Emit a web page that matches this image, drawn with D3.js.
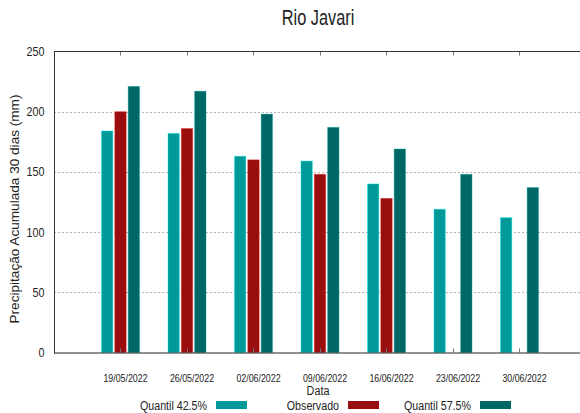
<!DOCTYPE html>
<html>
<head>
<meta charset="utf-8">
<script src="https://cdn.jsdelivr.net/npm/d3@7"></script>
<style>
  body { margin: 0; background: #fff; }
  text { font-family: "Liberation Sans", Arial, sans-serif; fill: #222; }
</style>
</head>
<body>
<svg id="chart" width="580" height="413"></svg>
<script>
const title = "Rio Javari";
const yLabel = "Precipitação Acumulada 30 dias (mm)";
const xLabel = "Data";
const categories = ["19/05/2022", "26/05/2022", "02/06/2022", "09/06/2022", "16/06/2022", "23/06/2022", "30/06/2022"];
const seriesNames = ["Quantil 42.5%", "Observado", "Quantil 57.5%"];
const seriesColors = ["#009999", "#990e0e", "#006767"];
const q425 = [184, 182, 163, 159, 140, 119, 112];
const observado = [200, 186, 160, 148, 128, null, null];
const q575 = [221, 217, 198, 187, 169, 148, 137];
const yTicks = [0, 50, 100, 150, 200, 250];

const seriesValues = [q425, observado, q575];

const svg = d3.select("#chart");
const pLeft = 54, pRight = 580, pTop = 51.5, pBottom = 352.5;

const x = d3.scaleLinear().domain([-1, 6.91]).range([pLeft, pRight]);
const y = d3.scaleLinear().domain([0, 250]).range([pBottom, pTop]);
const sub = d3.scaleBand().domain(seriesNames).range([-19, 19]).paddingInner(0.15);

// condensed horizontal text helper
function ctext(parent, tx, ty, str, size, sx, anchor) {
  const g = parent.append("g").attr("transform", `translate(${tx},${ty}) scale(${sx},1)`);
  g.append("text").attr("x", 0).attr("y", 0)
    .attr("text-anchor", anchor || "middle")
    .attr("font-size", size).text(str);
  return g;
}

// gridlines
svg.append("g").selectAll("line").data(yTicks.filter(t => t > 0 && t < 250)).join("line")
  .attr("x1", pLeft).attr("x2", pRight)
  .attr("y1", d => Math.round(y(d)) + 0.5).attr("y2", d => Math.round(y(d)) + 0.5)
  .attr("stroke", "#b4b4b4").attr("stroke-width", 1).attr("stroke-dasharray", "2,2");

// bars
const bars = svg.append("g");
seriesNames.forEach((name, si) => {
  const data = categories.map((c, i) => ({ i, v: seriesValues[si][i] })).filter(d => d.v != null);
  bars.selectAll(null).data(data).join("rect")
    .attr("x", d => x(d.i) + sub(name))
    .attr("y", d => y(d.v))
    .attr("width", sub.bandwidth())
    .attr("height", d => pBottom - y(d.v))
    .attr("fill", seriesColors[si])
    .attr("stroke", d3.color(seriesColors[si]).brighter(1.2))
    .attr("stroke-opacity", 0.5)
    .attr("stroke-width", 0.8);
});

// x ticks (inward, top and bottom)
const xt = svg.append("g");
xt.selectAll(".tb").data(categories).join("line")
  .attr("x1", (d, i) => Math.round(x(i)) + 0.5).attr("x2", (d, i) => Math.round(x(i)) + 0.5)
  .attr("y1", pBottom).attr("y2", pBottom - 4)
  .attr("stroke", "#777").attr("stroke-width", 1);
xt.selectAll(".tt").data(categories).join("line")
  .attr("x1", (d, i) => Math.round(x(i)) + 0.5).attr("x2", (d, i) => Math.round(x(i)) + 0.5)
  .attr("y1", pTop).attr("y2", pTop + 4)
  .attr("stroke", "#777").attr("stroke-width", 1);

// frame lines
svg.append("line").attr("x1", pLeft).attr("x2", pRight).attr("y1", pTop).attr("y2", pTop)
  .attr("stroke", "#333").attr("stroke-width", 1);
svg.append("line").attr("x1", pLeft).attr("x2", pRight).attr("y1", pBottom + 0.5).attr("y2", pBottom + 0.5)
  .attr("stroke", "#222").attr("stroke-width", 1);
svg.append("line").attr("x1", pLeft + 0.5).attr("x2", pLeft + 0.5).attr("y1", pTop).attr("y2", pBottom + 1)
  .attr("stroke", "#333").attr("stroke-width", 1);

// y tick labels
const yl = svg.append("g");
yTicks.forEach(t => ctext(yl, 44.5, y(t) + 4.5, t, 12.5, 0.86, "end"));

// x tick labels
const xl = svg.append("g");
categories.forEach((c, i) => ctext(xl, x(i) + 5, 382, c, 10.5, 0.84, "middle"));

// title
ctext(svg, 318, 25, title, 21.5, 0.76, "middle");

// x label
ctext(svg, 318, 395, xLabel, 13.5, 0.8, "middle");

// y label
svg.append("text").attr("transform", "translate(19,209) rotate(-90)")
  .attr("text-anchor", "middle")
  .attr("font-size", 13.6).text(yLabel);

// legend
const legend = svg.append("g");
seriesNames.forEach((name, si) => {
  const sx = 216 + si * 132;
  ctext(legend, sx - 9, 410, name, 13.7, 0.78, "end");
  legend.append("rect").attr("x", sx).attr("y", 401).attr("width", 31).attr("height", 8)
    .attr("fill", seriesColors[si]);
});
</script>
</body>
</html>
